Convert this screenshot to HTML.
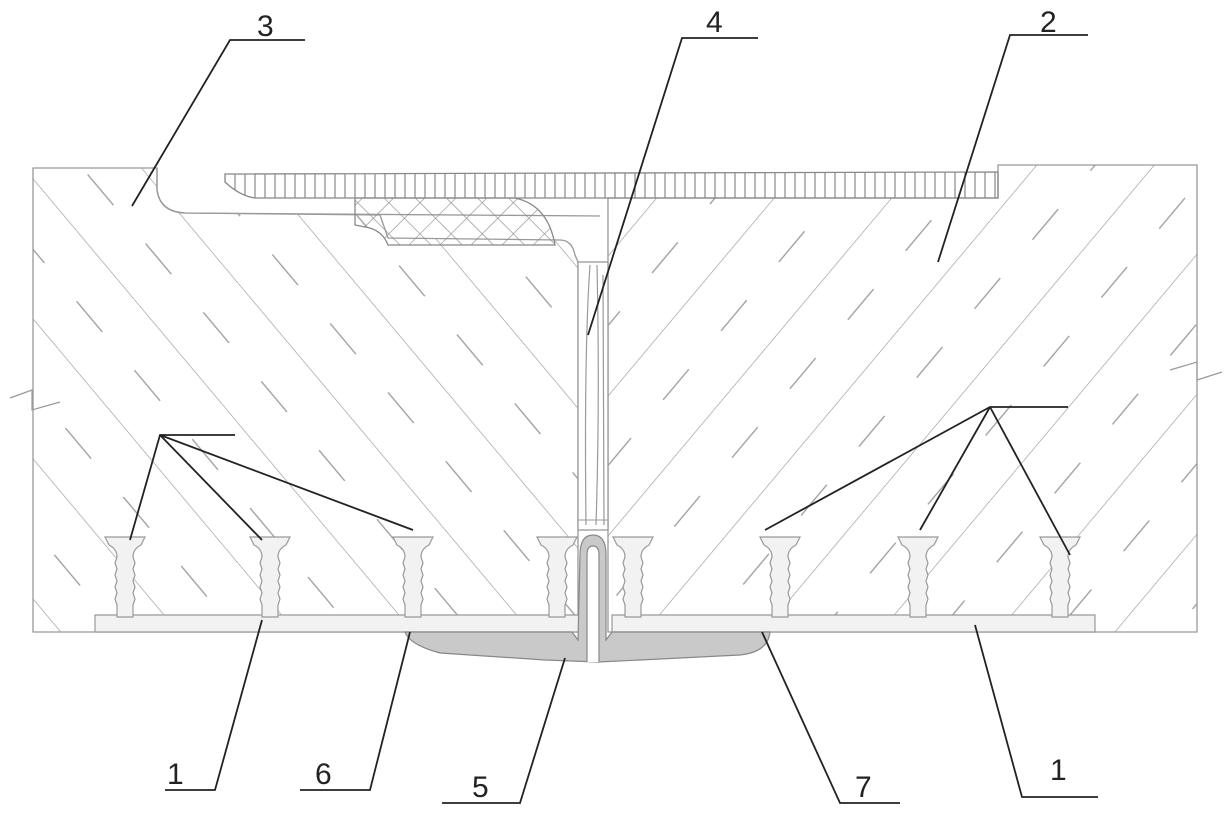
<!DOCTYPE html>
<html><head><meta charset="utf-8"><style>
html,body{margin:0;padding:0;background:#fff;}
svg{display:block}
text{font-family:"Liberation Sans",sans-serif;font-size:30px;fill:#222}
</style></head><body>
<svg width="1232" height="816" viewBox="0 0 1232 816" xmlns="http://www.w3.org/2000/svg">
<defs>
<pattern id="hl" patternUnits="userSpaceOnUse" width="90" height="90" patternTransform="rotate(-40)">
<line x1="0" y1="0" x2="0" y2="90" stroke="#9a9a9a" stroke-width="1.3"/>
<line x1="45" y1="10" x2="45" y2="50" stroke="#9a9a9a" stroke-width="1.3"/>
</pattern>
<pattern id="hr" patternUnits="userSpaceOnUse" width="90" height="90" patternTransform="rotate(40)">
<line x1="0" y1="0" x2="0" y2="90" stroke="#9a9a9a" stroke-width="1.3"/>
<line x1="45" y1="20" x2="45" y2="60" stroke="#9a9a9a" stroke-width="1.3"/>
</pattern>
<pattern id="vs" patternUnits="userSpaceOnUse" width="10" height="10">
<line x1="5" y1="0" x2="5" y2="10" stroke="#888" stroke-width="1.2"/>
</pattern>
<pattern id="xh" patternUnits="userSpaceOnUse" width="22" height="22" patternTransform="rotate(45)">
<line x1="0" y1="0" x2="0" y2="22" stroke="#888" stroke-width="1.2"/>
<line x1="0" y1="0" x2="22" y2="0" stroke="#888" stroke-width="1.2"/>
</pattern>
<g id="anc">
<path d="M-20,0 L20,0 L16,8 Q8,12 8,20 L10,26 L8,32 L10,38 L8,44 L10,50 L8,56 L10,62 L8,68 L8,80 L-8,80 L-8,68 L-10,62 L-8,56 L-10,50 L-8,44 L-10,38 L-8,32 L-10,26 L-8,20 Q-8,12 -16,8 Z" fill="#f2f2f2" stroke="#999" stroke-width="1.2"/>
</g>
</defs>
<path d="M33,168 L157,168 L157,190 Q160,212 185,213 L380,215 L388,238 L560,240 Q572,240 575,255 L578,262 L578,632 L33,632 Z" fill="url(#hl)" stroke="#999" stroke-width="1.3"/>
<path d="M608,198 L998,198 L998,165 L1197,165 L1197,632 L608,632 Z" fill="url(#hr)" stroke="#999" stroke-width="1.3"/>
<path d="M157,168 L157,190 Q160,212 185,213 L600,216" fill="none" stroke="#999" stroke-width="1.3"/>
<path d="M225,174 L998,172 L998,198 L255,198 Q240,196 225,182 Z" fill="url(#vs)" stroke="#888" stroke-width="1.3"/>
<path d="M355,198 L515,198 Q548,205 555,245 L388,245 Q383,232 370,228 L355,225 Z" fill="url(#xh)" stroke="#888" stroke-width="1.3"/>
<rect x="578" y="262" width="30" height="268" fill="#fff" stroke="#999" stroke-width="1.3"/>
<path d="M590,265 Q584,350 586,525 M597,265 Q600,400 596,525 M603,275 Q604,400 604,525" fill="none" stroke="#999" stroke-width="1.2"/>
<line x1="578" y1="520" x2="608" y2="520" stroke="#999"/>
<path d="M95,615 L580,615 L580,632 L95,632 Z M612,615 L1095,615 L1095,632 L612,632 Z" fill="#f2f2f2" stroke="#999" stroke-width="1.2"/>
<use href="#anc" x="125" y="537"/>
<use href="#anc" x="270" y="537"/>
<use href="#anc" x="413" y="537"/>
<use href="#anc" x="557" y="537"/>
<use href="#anc" x="633" y="537"/>
<use href="#anc" x="780" y="537"/>
<use href="#anc" x="918" y="537"/>
<use href="#anc" x="1060" y="537"/>
<path d="M405,632 L572,632 L578,640 L580,555 Q580,535 593,535 Q606,535 606,555 L606,640 L612,632 L770,632 Q768,652 740,655 L640,660 L598,662 L545,660 L440,653 Q410,645 405,632 Z" fill="#c9c9c9" stroke="#888" stroke-width="1.2"/>
<path d="M587,662 L587,555 Q587,546 593,546 Q599,546 599,555 L599,662" fill="#fff" stroke="#888" stroke-width="1.2"/>
<path d="M10,398 L32,390 L32,410 L60,402" fill="none" stroke="#999" stroke-width="1.2"/>
<path d="M1170,370 L1197,362 L1197,380 L1222,372" fill="none" stroke="#999" stroke-width="1.2"/>
<g stroke="#222" stroke-width="1.8" fill="none">
<path d="M305,40 L230,40 L132,206"/>
<path d="M758,38 L682,38 L588,335"/>
<path d="M1088,35 L1010,35 L938,262"/>
<path d="M235,435 L160,435 L130,540 M160,435 L262,540 M160,435 L413,530"/>
<path d="M1068,407 L990,407 L765,530 M990,407 L920,530 M990,407 L1070,555"/>
<path d="M165,790 L215,790 L262,620"/>
<path d="M300,790 L370,790 L410,632"/>
<path d="M442,803 L520,803 L565,658"/>
<path d="M900,803 L840,803 L762,632"/>
<path d="M1098,797 L1022,797 L975,625"/>
</g>
<text x="257" y="36">3</text>
<text x="706" y="32">4</text>
<text x="1040" y="32">2</text>
<text x="167" y="784">1</text>
<text x="315" y="784">6</text>
<text x="472" y="797">5</text>
<text x="855" y="797">7</text>
<text x="1050" y="780">1</text>
</svg>
</body></html>
